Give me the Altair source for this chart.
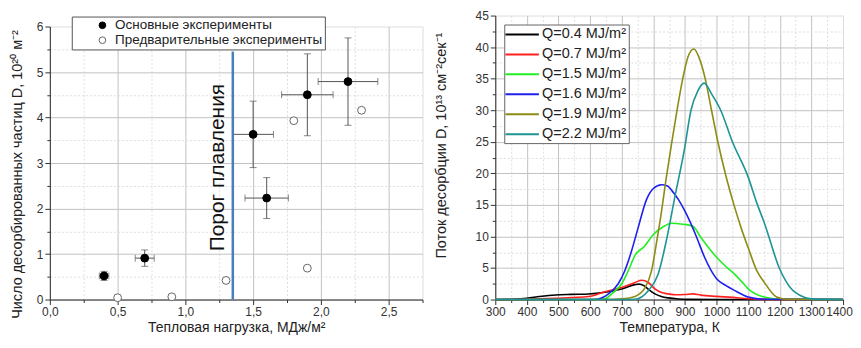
import altair as alt
import pandas as pd

FONT = "Liberation Sans"
TXT = "#222222"

# ---------------- Left panel data ----------------
main_x = [0.4, 0.7, 1.5, 1.6, 1.9, 2.2]
main_y = [0.52, 0.91, 3.63, 2.23, 4.50, 4.79]
main_xerr = [0.035, 0.07, 0.15, 0.16, 0.19, 0.22]
main_yerr = [0.10, 0.18, 0.73, 0.45, 0.90, 0.96]
prelim_x = [0.5, 0.9, 1.3, 1.8, 1.9, 2.3]
prelim_y = [0.04, 0.06, 0.42, 3.93, 0.69, 4.16]
point_types = ["Основные эксперименты", "Предварительные эксперименты"]

melt_x = [1.35]
melt_y0 = [0.0]
melt_y1 = [5.45]
ann_text = ["Порог плавления"]
ann_x = [1.24]
ann_y = [2.9]

left_x_ticks = [0, 0.25, 0.5, 0.75, 1.0, 1.25, 1.5, 1.75, 2.0, 2.25, 2.5, 2.75]
left_y_ticks = [0, 0.5, 1, 1.5, 2, 2.5, 3, 3.5, 4, 4.5, 5, 5.5, 6]

# ---------------- Right panel data ----------------
q_labels = ["Q=0.4 MJ/m²", "Q=0.7 MJ/m²", "Q=1.5 MJ/m²",
            "Q=1.6 MJ/m²", "Q=1.9 MJ/m²", "Q=2.2 MJ/m²"]
q_colors = ["#000000", "#ff2020", "#22ee22", "#1f1fee", "#8c8c14", "#1e9494"]

T_04 = [300, 350, 400, 440, 490, 540, 595, 647, 700, 742, 755, 770, 785, 805, 825, 847, 880, 910, 1000, 1400]
F_04 = [0, 0.05, 0.2, 0.47, 0.73, 0.82, 0.88, 1.15, 1.67, 2.36, 2.45, 2.2, 1.6, 0.9, 0.5, 0.26, 0.08, 0.02, 0, 0]

T_07 = [300, 400, 491, 595, 647, 700, 742, 763, 784, 805, 826, 847, 870, 900, 925, 950, 1000, 1050, 1100, 1150, 1400]
F_07 = [0, 0.05, 0.2, 0.47, 1.25, 1.9, 2.7, 3.05, 2.7, 1.7, 1.1, 0.9, 0.75, 0.8, 0.9, 0.7, 0.5, 0.35, 0.15, 0.03, 0]

T_15 = [300, 600, 647, 668, 700, 721, 742, 773, 800, 830, 858, 880, 900, 925, 951, 975, 1000, 1030, 1055, 1080, 1100, 1150, 1200, 1400]
F_15 = [0, 0, 0.1, 0.9, 2.5, 4.6, 7, 8.5, 10.3, 11.5, 12.1, 12.0, 11.9, 11.6, 9.8, 8.2, 6.7, 5.2, 4.1, 2.8, 1.7, 0.4, 0.05, 0]

T_16 = [300, 600, 626, 658, 689, 710, 731, 752, 778, 800, 826, 845, 858, 880, 900, 936, 962, 1000, 1030, 1055, 1100, 1150, 1400]
F_16 = [0, 0, 0.1, 0.9, 2.5, 4.6, 7.7, 11.4, 15.8, 17.6, 18.2, 18.0, 17.3, 15.8, 14, 10, 6.7, 3.3, 2.2, 1.5, 0.4, 0.05, 0]

T_19 = [300, 650, 700, 742, 773, 794, 810, 826, 840, 857, 875, 893, 910, 928, 945, 964, 984, 1004, 1030, 1055, 1080, 1100, 1128, 1150, 1190, 1220, 1400]
F_19 = [0, 0, 0.1, 0.5, 1.8, 4.5, 9, 14, 19, 24.5, 30, 35, 38.5, 39.7, 38.3, 35, 30, 25, 19.5, 15, 11, 8.2, 4.5, 2.8, 0.4, 0.05, 0]

T_22 = [300, 700, 742, 784, 815, 841, 867, 899, 919, 940, 961, 985, 1013, 1050, 1100, 1128, 1150, 1200, 1233, 1275, 1300, 1400]
F_22 = [0, 0, 0.05, 1.4, 4, 9.3, 16, 24, 30, 33, 34.3, 32.5, 30, 25, 19.4, 15.2, 12.3, 4.8, 1.9, 0.4, 0.1, 0]

right_x_ticks = [300, 350, 400, 450, 500, 550, 600, 650, 700, 750, 800, 850, 900, 950,
                 1000, 1050, 1100, 1150, 1200, 1250, 1300, 1350, 1400]
right_y_ticks = [0, 2.5, 5, 7.5, 10, 12.5, 15, 17.5, 20, 22.5, 25, 27.5, 30, 32.5,
                 35, 37.5, 40, 42.5, 45]

# ---------------- common axis styling ----------------
def make_axis(values, major_test, label_expr, title, hide_test, title_padding,
              title_size=14.5, **kw):
    return alt.Axis(
        values=values,
        labelExpr=label_expr,
        title=title,
        grid=True,
        gridColor={"condition": {"test": major_test, "value": "#c2c2c2"}, "value": "#dedede"},
        gridDash={"condition": {"test": major_test, "value": []}, "value": [2, 2]},
        gridOpacity={"condition": {"test": hide_test, "value": 0}, "value": 1},
        gridWidth=1,
        tickSize={"condition": {"test": major_test, "value": 5}, "value": 3},
        tickColor="#333333",
        domainColor="#333333",
        labelColor="#333333",
        labelFont=FONT,
        labelFontSize=12,
        labelOverlap=False,
        labelFlush=False,
        labelPadding=2,
        titleFont=FONT,
        titleFontSize=title_size,
        titleFontWeight="normal",
        titleColor=TXT,
        titlePadding=title_padding,
        **kw,
    )

lx_axis = make_axis(left_x_ticks, "datum.value % 0.5 == 0",
                    "datum.value % 0.5 == 0 ? replace(format(datum.value, '.1f'), '.', ',') : ''",
                    "Тепловая нагрузка, МДж/м²", "datum.value > 2.7", 3, title_size=14)
ly_axis = make_axis(left_y_ticks, "datum.value % 1 == 0",
                    "datum.value % 1 == 0 ? format(datum.value, 'd') : ''",
                    "Число десорбированных частиц D, 10²⁰ м⁻²", "datum.value > 5.9", 12,
                    titleY=148)
rx_axis = make_axis(right_x_ticks, "datum.value % 100 == 0",
                    "datum.value % 100 == 0 ? format(datum.value, 'd') : ''",
                    "Температура, К", "datum.value > 1390", 3, title_size=14,
                    labelOffset={"condition": {"test": "datum.value >= 1400", "value": -4},
                                 "value": 0})
ry_axis = make_axis(right_y_ticks, "datum.value % 5 == 0",
                    "datum.value % 5 == 0 ? format(datum.value, 'd') : ''",
                    "Поток десорбции D, 10¹³ см⁻²сек⁻¹", "datum.value > 44", 27,
                    titleY=130)

lx_scale = alt.Scale(domain=[0, 2.75], nice=False, zero=False)
ly_scale = alt.Scale(domain=[0, 6], nice=False)


def lx(field):
    return alt.X(field, type="quantitative", scale=lx_scale, axis=lx_axis)


def ly(field):
    return alt.Y(field, type="quantitative", scale=ly_scale, axis=ly_axis)


# ---------------- Left panel ----------------
err_df = pd.DataFrame({
    "x": main_x, "y": main_y,
    "xlo": [a - b for a, b in zip(main_x, main_xerr)],
    "xhi": [a + b for a, b in zip(main_x, main_xerr)],
    "ylo": [a - b for a, b in zip(main_y, main_yerr)],
    "yhi": [a + b for a, b in zip(main_y, main_yerr)],
})
pts_df = pd.DataFrame({
    "x": main_x + prelim_x,
    "y": main_y + prelim_y,
    "type": [point_types[0]] * len(main_x) + [point_types[1]] * len(prelim_x),
})
melt_df = pd.DataFrame({"x": melt_x, "y0": melt_y0, "y1": melt_y1})
ann_df = pd.DataFrame({"t": ann_text, "x": ann_x, "y": ann_y})

ERR = "#555555"
xbars = alt.Chart(err_df).mark_rule(color=ERR, strokeWidth=1).encode(
    x=lx("xlo"), x2="xhi", y=ly("y"))
ybars = alt.Chart(err_df).mark_rule(color=ERR, strokeWidth=1).encode(
    x=lx("x"), y=ly("ylo"), y2="yhi")
xcaps = alt.Chart(err_df).transform_fold(["xlo", "xhi"], as_=["k", "xv"]).mark_tick(
    orient="vertical", size=7, thickness=1, color=ERR).encode(x=lx("xv"), y=ly("y"))
ycaps = alt.Chart(err_df).transform_fold(["ylo", "yhi"], as_=["k", "yv"]).mark_tick(
    orient="horizontal", size=7, thickness=1, color=ERR).encode(x=lx("x"), y=ly("yv"))
melt_line = alt.Chart(melt_df).mark_rule(color="#4a7ebb", strokeWidth=2.5).encode(
    x=lx("x"), y=ly("y0"), y2="y1")
ann = alt.Chart(ann_df).mark_text(angle=270, fontSize=21, font=FONT, color="#111111",
                                  align="center", baseline="middle").encode(
    x=lx("x"), y=ly("y"), text="t:N")

leg_left = alt.Legend(
    title=None, orient="none", legendX=22, legendY=1,
    strokeColor="#555555", fillColor="white", padding=2, rowPadding=0,
    symbolOffset=22, labelOffset=6, labelFont=FONT, labelFontSize=13.5,
    labelColor=TXT, labelLimit=400, symbolSize=45, symbolStrokeWidth=1, cornerRadius=0,
)
points = alt.Chart(pts_df).mark_point(size=62, strokeWidth=1, opacity=1).encode(
    x=lx("x"), y=ly("y"),
    fill=alt.Fill("type:N", scale=alt.Scale(domain=point_types, range=["#000000", "#ffffff"]),
                  legend=leg_left),
    stroke=alt.Stroke("type:N", scale=alt.Scale(domain=point_types, range=["#000000", "#666666"]),
                      legend=leg_left),
)

left = alt.layer(xbars, ybars, xcaps, ycaps, melt_line, ann, points).properties(
    width=374, height=274)

spacer = alt.Chart(pd.DataFrame({"a": [0]})).mark_point(opacity=0, size=1).encode(
    x=alt.X("a:Q", axis=None), y=alt.Y("a:Q", axis=None)).properties(
    width=374, height=4,
    view=alt.ViewBackground(stroke="transparent", fill="transparent", strokeWidth=0))

# ---------------- Right panel ----------------
rows = []
for lab, ts, fs in zip(q_labels, [T_04, T_07, T_15, T_16, T_19, T_22],
                       [F_04, F_07, F_15, F_16, F_19, F_22]):
    for t, f in zip(ts, fs):
        rows.append({"T": t, "F": f, "Q": lab})
curve_df = pd.DataFrame(rows)

leg_right = alt.Legend(
    title=None, orient="none", legendX=9, legendY=9,
    strokeColor="#666666", fillColor="white", padding=2, rowPadding=5,
    symbolType="M-2.5,0H2.5", symbolSize=180, symbolStrokeWidth=2, symbolOffset=8,
    labelOffset=12, labelFont=FONT, labelFontSize=14.5, labelColor=TXT, labelLimit=400,
    cornerRadius=0,
)
right = alt.Chart(curve_df).mark_line(strokeWidth=1.6, interpolate="monotone").encode(
    x=alt.X("T:Q", scale=alt.Scale(domain=[300, 1400], nice=False, zero=False), axis=rx_axis),
    y=alt.Y("F:Q", scale=alt.Scale(domain=[0, 45], nice=False), axis=ry_axis),
    color=alt.Color("Q:N", scale=alt.Scale(domain=q_labels, range=q_colors), legend=leg_right),
    order=alt.Order("T:Q"),
).properties(width=349, height=285)

left_col = alt.vconcat(spacer, left, spacing=0)
chart = alt.hconcat(left_col, right, spacing=9).resolve_scale(
    fill="independent", stroke="independent", color="independent"
).properties(
    padding={"left": 0, "top": 0, "right": 0, "bottom": 0}
).configure_view(stroke=None).configure(font=FONT)

chart.save("out.html", embed_options={"renderer": "svg", "actions": False})
